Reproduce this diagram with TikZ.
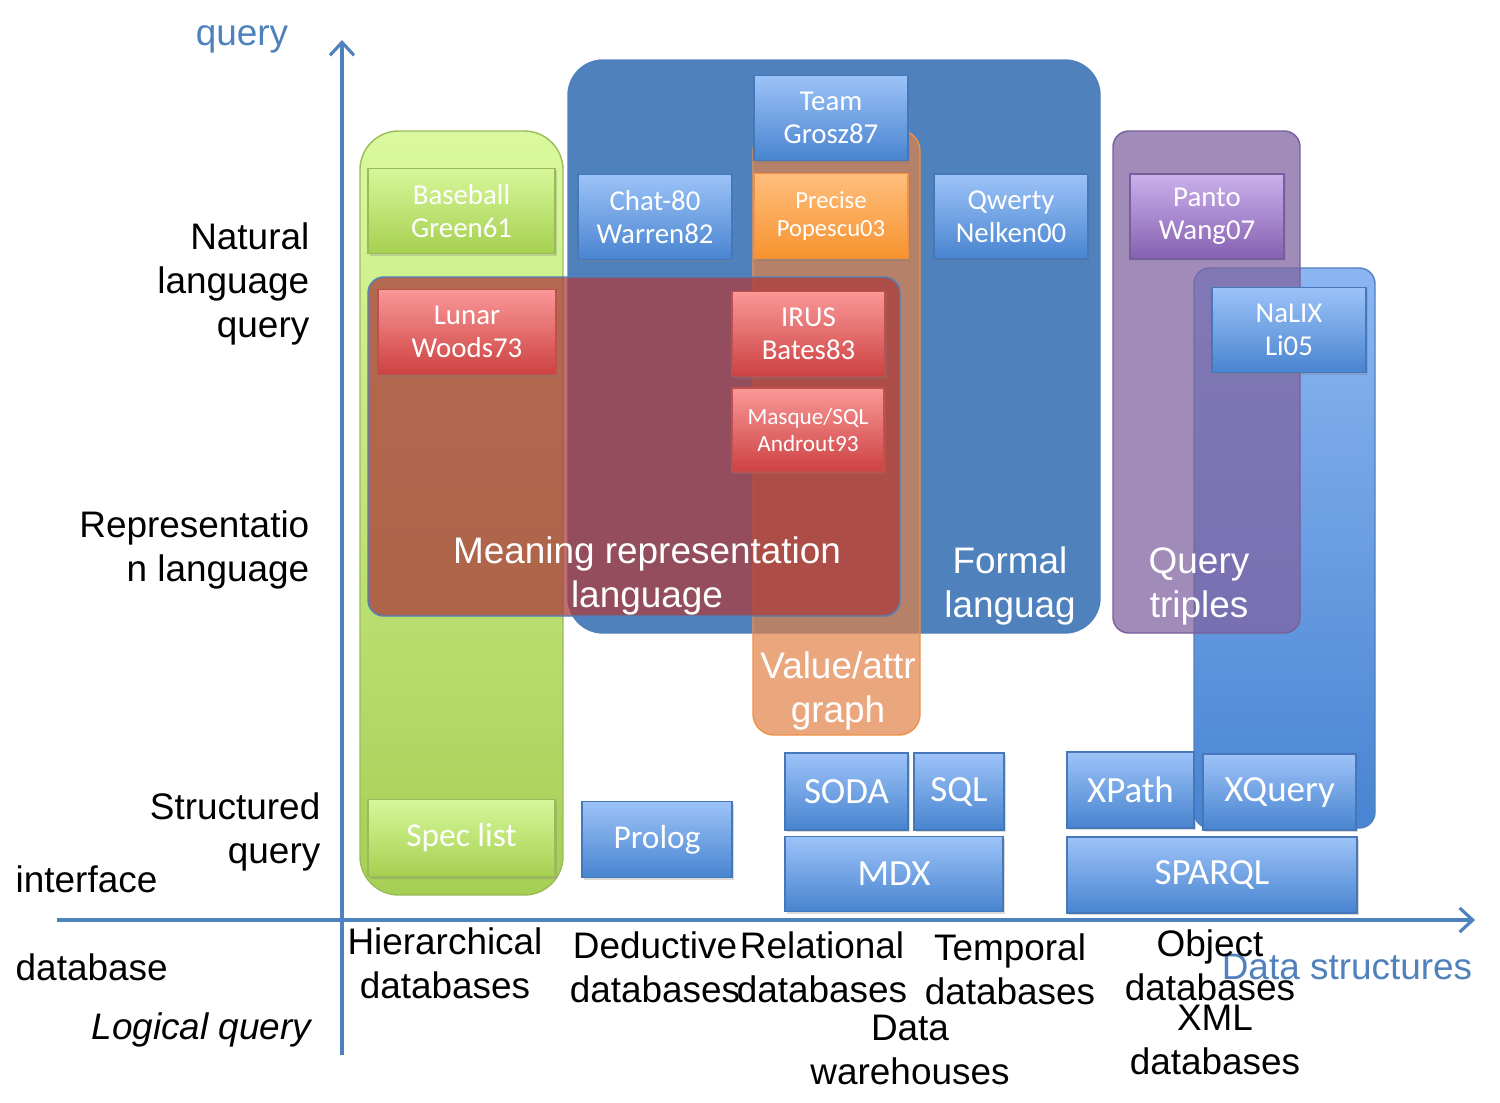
\documentclass[tikz,border=0pt]{standalone}
\usepackage{fontspec}
\setmainfont{Liberation Sans}
\newfontfamily\boxfont{Carlito}
\usetikzlibrary{arrows.meta,fit,shadows}
\definecolor{axisBlue}{HTML}{4F81BD}
\definecolor{zGreenTop}{RGB}{218,249,158}
\definecolor{zGreenBot}{RGB}{166,207,85}
\definecolor{zGreenLine}{RGB}{155,187,89}
\definecolor{zBlue}{RGB}{79,129,189}
\definecolor{zOrange}{RGB}{225,130,70}
\definecolor{zOrangeLine}{RGB}{240,145,70}
\definecolor{zRed}{RGB}{170,60,60}
\definecolor{zPurple}{RGB}{128,100,162}
\definecolor{zPurpleLine}{RGB}{120,95,155}
\definecolor{zXmlTop}{RGB}{140,182,242}
\definecolor{zXmlBot}{RGB}{72,132,210}
\definecolor{bBlueTop}{RGB}{157,195,248}
\definecolor{bBlueBot}{RGB}{72,132,208}
\definecolor{bBlueLine}{RGB}{70,120,185}
\definecolor{bGreenTop}{RGB}{214,247,154}
\definecolor{bGreenBot}{RGB}{166,208,80}
\definecolor{bRedTop}{RGB}{250,152,152}
\definecolor{bRedBot}{RGB}{205,65,65}
\definecolor{bRedLine}{RGB}{192,80,77}
\definecolor{bOrangeTop}{RGB}{255,190,125}
\definecolor{bOrangeBot}{RGB}{247,147,47}
\definecolor{bPurpleTop}{RGB}{203,176,236}
\definecolor{bPurpleBot}{RGB}{133,96,176}
\tikzset{
  zone/.style={inner sep=0pt},
  greenzone/.style={zone,rounded corners=11pt,top color=zGreenTop,bottom color=zGreenBot,draw=zGreenLine},
  bluezone/.style={zone,rounded corners=10pt,fill=zBlue,draw=zBlue},
  orangezone/.style={zone,rounded corners=6pt,fill=zOrange,fill opacity=0.7,draw=zOrangeLine},
  redzone/.style={zone,rounded corners=4.5pt,fill=zRed,fill opacity=0.75,draw=axisBlue},
  xmlzone/.style={zone,rounded corners=4.5pt,top color=zXmlTop,bottom color=zXmlBot,draw=axisBlue},
  purplezone/.style={zone,rounded corners=4.5pt,fill=zPurple,fill opacity=0.75,draw=zPurpleLine},
  ebox/.style={inner sep=0pt,align=center,text=white,
    minimum width=1.54cm,minimum height=0.85cm,
    font=\boxfont\fontsize{8.2}{9.4}\selectfont,
    drop shadow={opacity=0.3,shadow xshift=0.6pt,shadow yshift=-0.6pt}},
  bluebox/.style={ebox,top color=bBlueTop,bottom color=bBlueBot,draw=bBlueLine},
  greenbox/.style={ebox,top color=bGreenTop,bottom color=bGreenBot,draw=zGreenLine},
  redbox/.style={ebox,top color=bRedTop,bottom color=bRedBot,draw=bRedLine},
  orangebox/.style={ebox,top color=bOrangeTop,bottom color=bOrangeBot,draw=zOrangeLine},
  purplebox/.style={ebox,top color=bPurpleTop,bottom color=bPurpleBot,draw=zPurpleLine},
  bigbox/.style={font=\boxfont\fontsize{10.5}{12}\selectfont,minimum height=0.77cm},
  midbox/.style={font=\boxfont\fontsize{9.5}{11}\selectfont,minimum height=0.77cm},
  smallbox/.style={font=\boxfont\fontsize{7}{8}\selectfont},
  bigtext/.style={inner sep=0pt,align=center,font=\fontsize{10.5}{12.5}\selectfont},
  zonetext/.style={bigtext,text=white},
  axistext/.style={bigtext,align=right,anchor=east},
  axis/.style={draw=axisBlue,line width=0.9pt,-{Straight Barb[length=1.3mm,width=2.4mm]}},
}
\begin{document}
\begin{tikzpicture}[x=0.01cm,y=-0.01cm]
\useasboundingbox (0,0) rectangle (1500,1102);
% regions
\node[greenzone,fit={(360,131) (563,895)}] (zgreen) {};
\node[bluezone,fit={(568,60) (1100,633)}] (zblue) {};
\node[orangezone,fit={(753,130) (920,735)}] (zorange) {};
\node[redzone,fit={(368,277) (900,616)}] (zred) {};
\node[xmlzone,fit={(1194,268) (1375,828)}] (zxml) {};
\node[purplezone,fit={(1113,131) (1300,633)}] (zpurple) {};
\node[zonetext] (mrlab) at (647,576) {Meaning representation\\language};
\node[zonetext] (fllab) at (1010,586) {Formal\\languag};
\node[zonetext] (valab) at (838,691) {Value/attr\\graph};
\node[zonetext] (qtlab) at (1199,586) {Query\\triples};
% systems
\node[greenbox,minimum width=1.87cm] (baseball) at (461.5,211) {Baseball\\Green61};
\node[bluebox] (chat) at (655,217) {Chat-80\\Warren82};
\node[bluebox] (team) at (831,118) {Team\\Grosz87};
\node[orangebox,smallbox] (precise) at (831,216) {Precise\\Popescu03};
\node[bluebox] (qwerty) at (1011,216.5) {Qwerty\\Nelken00};
\node[purplebox] (panto) at (1207,216.5) {Panto\\Wang07};
\node[redbox,minimum width=1.78cm] (lunar) at (467,332) {Lunar\\Woods73};
\node[redbox,minimum width=1.53cm] (irus) at (808.5,334) {IRUS\\Bates83};
\node[redbox,minimum width=1.52cm,minimum height=0.84cm,font=\boxfont\fontsize{6.6}{7.8}\selectfont] (masque) at (808,430) {Masque/SQL\\Androut93};
\node[bluebox] (nalix) at (1289,330) {NaLIX\\Li05};
% structured query languages
\node[greenbox,midbox,minimum width=1.87cm] (speclist) at (461.5,838) {Spec list};
\node[bluebox,midbox,minimum width=1.5cm,minimum height=0.76cm] (prolog) at (657,839.5) {Prolog};
\node[bluebox,bigbox,minimum width=1.23cm] (soda) at (846.5,791.5) {SODA};
\node[bluebox,bigbox,minimum width=0.9cm] (sqlbox) at (959,791.5) {SQL};
\node[bluebox,bigbox,minimum width=2.18cm,minimum height=0.75cm] (mdx) at (894,874) {MDX};
\node[bluebox,bigbox,minimum width=1.27cm,minimum height=0.76cm] (xpath) at (1130.5,790) {XPath};
\node[bluebox,bigbox,minimum width=1.53cm,minimum height=0.76cm] (xquery) at (1279.5,792) {XQuery};
\node[bluebox,bigbox,minimum width=2.9cm,minimum height=0.76cm] (sparql) at (1212,875) {SPARQL};
% axes
\coordinate (ybase) at (342,1055);
\coordinate (ytip) at (342,40);
\coordinate (xbase) at (57,920);
\coordinate (xtip) at (1475,920);
\draw[axis] (ybase) -- (ytip);
\draw[axis] (xbase) -- (xtip);
\node[bigtext,text=axisBlue] (qlab) at (242,39) {query};
\node[bigtext,text=axisBlue] (dslab) at (1347,967) {Data structures};
\node[axistext] (nlq) at (310,284) {Natural\\language\\query};
\node[axistext] (rlang) at (310,550) {Representatio\\n language};
\node[axistext] (squery) at (321,832) {Structured\\query};
\node[bigtext,anchor=west] (iface) at (15,879) {interface};
\node[bigtext,anchor=west] (dbase) at (15,967) {database};
\node[axistext,font=\fontsize{10.5}{12.5}\selectfont\itshape] (lquery) at (312,1030) {Logical query};
% database kinds
\node[bigtext] (hier) at (445,963) {Hierarchical\\databases};
\node[bigtext] (deduct) at (655,967) {Deductive\\databases};
\node[bigtext] (relat) at (822,967) {Relational\\databases};
\node[bigtext] (tempo) at (1010,969) {Temporal\\databases};
\node[bigtext] (dwh) at (910,1050) {Data\\warehouses};
\node[bigtext] (objdb) at (1210,965) {Object\\databases};
\node[bigtext] (xmldb) at (1215,1040) {XML\\databases};
\end{tikzpicture}
\end{document}
